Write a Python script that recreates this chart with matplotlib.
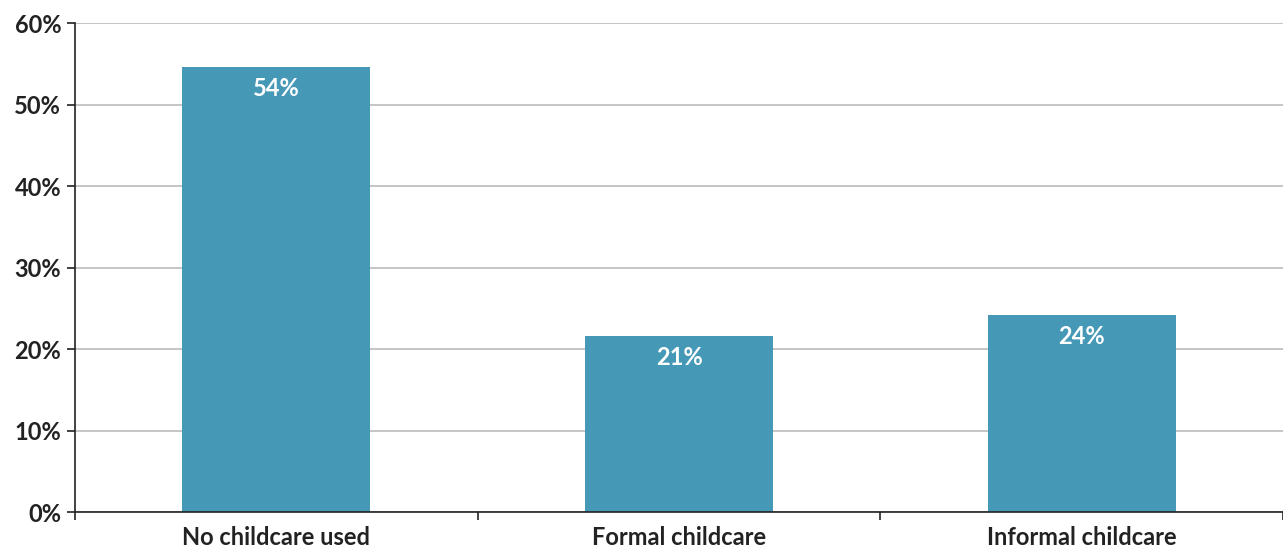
import matplotlib.pyplot as plt
from matplotlib.ticker import FuncFormatter

# values
categories = ['No childcare used', 'Formal childcare', 'Informal childcare']
shares = [54.6, 21.6, 24.2]
bar_labels = ['54%', '21%', '24%']
y_ticks = [0, 10, 20, 30, 40, 50, 60]

plt.rcParams['font.family'] = ['Lato', 'DejaVu Sans']

fig = plt.figure(figsize=(12.83, 5.5), dpi=100)
ax = fig.add_axes([0.0585, 0.069, 0.9415, 0.889])

bar_color = '#4699b6'
ax.bar(range(len(categories)), shares, width=0.467, color=bar_color, zorder=3)

for i, (v, lab) in enumerate(zip(shares, bar_labels)):
    ax.annotate(lab, (i, v), xytext=(0, -7), textcoords='offset points',
                ha='center', va='top', color='white', fontsize=17,
                fontweight='bold', zorder=4)

ax.set_xlim(-0.5, len(categories) - 0.5)
ax.set_ylim(0, 60)
ax.set_yticks(y_ticks)
ax.yaxis.set_major_formatter(FuncFormatter(lambda v, p: f'{v:.0f}%'))
ax.grid(axis='y', color='#c0c0c0', linewidth=1.3, zorder=0)

ax.set_xticks(range(len(categories)))
ax.set_xticklabels(categories)
ax.set_xticks([i - 0.5 for i in range(len(categories) + 1)], minor=True)
ax.tick_params(axis='x', which='major', length=0, pad=10, labelsize=17,
               labelcolor='#222222')
ax.tick_params(axis='x', which='minor', length=6, width=1.2, color='#222222')
ax.tick_params(axis='y', length=6, width=1.2, color='#222222', pad=4,
               labelsize=17, labelcolor='#222222')
for lab in ax.get_xticklabels() + ax.get_yticklabels():
    lab.set_fontweight('bold')

for side in ['top', 'right']:
    ax.spines[side].set_visible(False)
for side in ['left', 'bottom']:
    ax.spines[side].set_color('#222222')
    ax.spines[side].set_linewidth(1.2)
    ax.spines[side].set_zorder(5)

fig.savefig('out.png', dpi=100)
